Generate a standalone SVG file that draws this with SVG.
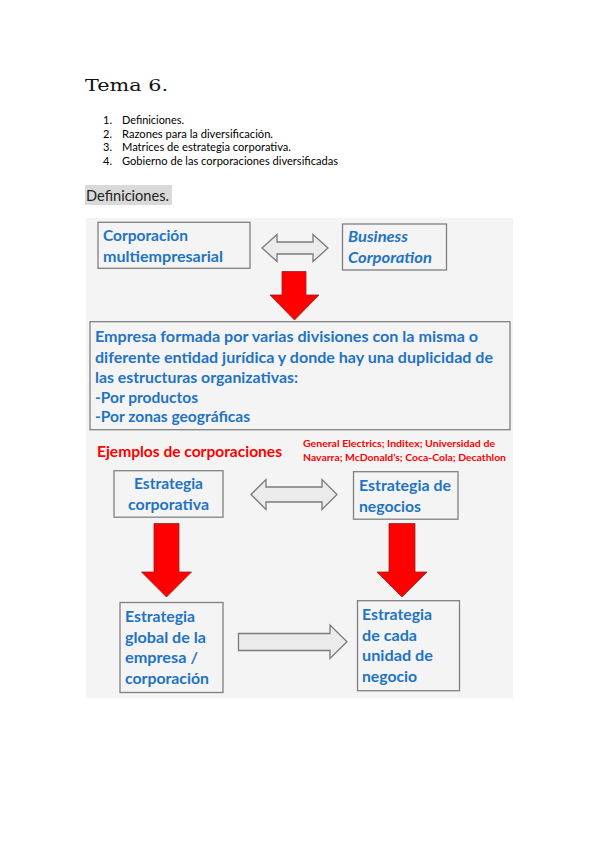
<svg xmlns="http://www.w3.org/2000/svg" width="599" height="848" viewBox="0 0 599 848">
<style>
.list{font-family:"Lato","Liberation Sans",sans-serif;font-size:11px;fill:#000}
.box{fill:#f4f4f4;stroke:#808080;stroke-width:1.3}
.bt{font-family:"Lato","Liberation Sans",sans-serif;font-weight:bold;font-size:15.5px;fill:#1f73c4}
.ga{fill:#ebebeb;stroke:#7a7a7a;stroke-width:1.3}
.ra{fill:#ff0000;stroke:#9a2020;stroke-width:0.8}
.red{font-family:"Lato","Liberation Sans",sans-serif;font-weight:bold;fill:#ff0000}
</style>
<rect width="599" height="848" fill="#ffffff"/>
<text x="85" y="91" font-family="DejaVu Serif" font-size="17.5" fill="#111" textLength="83" lengthAdjust="spacingAndGlyphs">Tema 6.</text>
<g class="list">
<text x="103" y="124">1.</text><text x="122" y="124" textLength="62" lengthAdjust="spacingAndGlyphs">Definiciones.</text>
<text x="103" y="137.5">2.</text><text x="122" y="137.5" textLength="151" lengthAdjust="spacingAndGlyphs">Razones para la diversificación.</text>
<text x="103" y="151">3.</text><text x="122" y="151" textLength="169" lengthAdjust="spacingAndGlyphs">Matrices de estrategia corporativa.</text>
<text x="103" y="164.5">4.</text><text x="122" y="164.5" textLength="216" lengthAdjust="spacingAndGlyphs">Gobierno de las corporaciones diversificadas</text>
</g>
<rect x="85" y="185" width="87" height="20" fill="#d9d9d9"/>
<text x="86" y="200.5" font-family="Lato,'Liberation Sans',sans-serif" font-size="14.5" fill="#222" textLength="83" lengthAdjust="spacingAndGlyphs">Definiciones.</text>
<rect x="86" y="218" width="427" height="480" fill="#f4f4f4"/>

<g id="connectors">
<path class="ga" d="M262,248 L277,234.5 L277,242 L313,242 L313,234.5 L328,248 L313,261.5 L313,254 L277,254 L277,261.5 Z"/>
<path class="ra" d="M282,271.5 L306,271.5 L306,295 L319,295 L294.5,320 L270,295 L282,295 Z"/>
<path class="ga" d="M251,494.5 L266,479.5 L266,487 L322,487 L322,479.5 L337,494.5 L322,509.5 L322,502 L266,502 L266,509.5 Z"/>
<path class="ra" d="M154,523.5 L179,523.5 L179,572 L191.5,572 L166.5,597 L141.5,572 L154,572 Z"/>
<path class="ra" d="M389,523.5 L415,523.5 L415,572 L427,572 L402,597 L377,572 L389,572 Z"/>
<path class="ga" d="M238.5,633.5 L330,633.5 L330,625 L347,641.8 L330,658.5 L330,650.5 L238.5,650.5 Z"/>
</g>

<g id="n1"><rect class="box" x="98" y="222.3" width="152" height="46"/>
<text class="bt" x="103" y="241" textLength="85" lengthAdjust="spacingAndGlyphs">Corporación</text>
<text class="bt" x="103" y="261.5" textLength="120" lengthAdjust="spacingAndGlyphs">multiempresarial</text></g>
<g id="n2"><rect class="box" x="342.5" y="224" width="104" height="46"/>
<text class="bt" x="348" y="242" font-style="italic" textLength="60" lengthAdjust="spacingAndGlyphs">Business</text>
<text class="bt" x="348" y="263" font-style="italic" textLength="84" lengthAdjust="spacingAndGlyphs">Corporation</text></g>
<g id="n3"><rect class="box" x="90" y="321.7" width="420" height="108"/>
<text class="bt" x="95" y="342" textLength="383" lengthAdjust="spacingAndGlyphs">Empresa formada por varias divisiones con la misma o</text>
<text class="bt" x="95" y="363" textLength="398" lengthAdjust="spacingAndGlyphs">diferente entidad jurídica y  donde hay una duplicidad de</text>
<text class="bt" x="95" y="383" textLength="203" lengthAdjust="spacingAndGlyphs">las estructuras organizativas:</text>
<text class="bt" x="95" y="402.5" textLength="103" lengthAdjust="spacingAndGlyphs">-Por productos</text>
<text class="bt" x="95" y="421.5" textLength="155" lengthAdjust="spacingAndGlyphs">-Por zonas geográficas</text></g>
<g id="examples">
<text class="red" x="97" y="457" font-size="15.5" textLength="185" lengthAdjust="spacingAndGlyphs">Ejemplos de corporaciones</text>
<text class="red" x="303" y="447" font-size="9.8" textLength="192" lengthAdjust="spacingAndGlyphs">General Electrics; Inditex; Universidad de</text>
<text class="red" x="303" y="461" font-size="9.8" textLength="203" lengthAdjust="spacingAndGlyphs">Navarra; McDonald’s; Coca-Cola; Decathlon</text></g>
<g id="n4"><rect class="box" x="114" y="470.7" width="109" height="46.5"/>
<text class="bt" x="134" y="489" textLength="69" lengthAdjust="spacingAndGlyphs">Estrategia</text>
<text class="bt" x="128" y="510" textLength="81" lengthAdjust="spacingAndGlyphs">corporativa</text></g>
<g id="n5"><rect class="box" x="353.5" y="471.7" width="104.5" height="47.5"/>
<text class="bt" x="359" y="490.7" textLength="92" lengthAdjust="spacingAndGlyphs">Estrategia de</text>
<text class="bt" x="359" y="511.7" textLength="62" lengthAdjust="spacingAndGlyphs">negocios</text></g>
<g id="n6"><rect class="box" x="120" y="602.5" width="103" height="90"/>
<text class="bt" x="125" y="621.7" textLength="70" lengthAdjust="spacingAndGlyphs">Estrategia</text>
<text class="bt" x="125" y="642.7" textLength="81" lengthAdjust="spacingAndGlyphs">global de la</text>
<text class="bt" x="125" y="663.3" textLength="73" lengthAdjust="spacingAndGlyphs">empresa /</text>
<text class="bt" x="125" y="684" textLength="84" lengthAdjust="spacingAndGlyphs">corporación</text></g>
<g id="n7"><rect class="box" x="357.5" y="600.7" width="102" height="90"/>
<text class="bt" x="362" y="620" textLength="70" lengthAdjust="spacingAndGlyphs">Estrategia</text>
<text class="bt" x="362" y="640.7" textLength="55" lengthAdjust="spacingAndGlyphs">de cada</text>
<text class="bt" x="362" y="661" textLength="71" lengthAdjust="spacingAndGlyphs">unidad de</text>
<text class="bt" x="362" y="681.7" textLength="55" lengthAdjust="spacingAndGlyphs">negocio</text></g>
</svg>
